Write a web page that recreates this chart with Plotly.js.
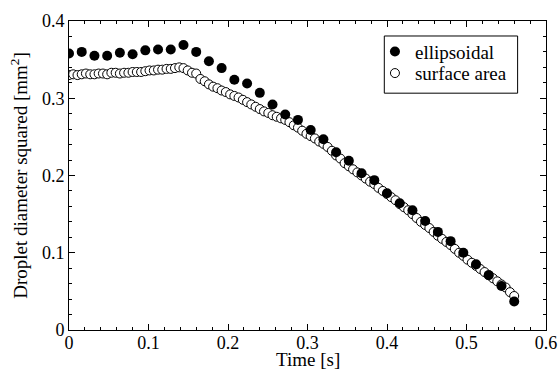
<!DOCTYPE html>
<html>
<head>
<meta charset="utf-8">
<script src="https://cdn.plot.ly/plotly-3.0.1.min.js"></script>
<style>html,body{margin:0;padding:0;background:#fff;}#chart{width:560px;height:371px;}</style>
</head>
<body>
<div id="chart"></div>
<script>
// Ellipsoidal (filled circles)
const ellTime = [0, 0.016, 0.032, 0.048, 0.064, 0.08, 0.096, 0.112, 0.128, 0.144, 0.16, 0.176, 0.192, 0.208, 0.224, 0.24, 0.256, 0.272, 0.288, 0.304, 0.32, 0.336, 0.352, 0.368, 0.384, 0.4, 0.416, 0.432, 0.448, 0.464, 0.48, 0.496, 0.512, 0.528, 0.544, 0.56];
const ellD2 = [0.358, 0.360, 0.355, 0.355, 0.359, 0.357, 0.362, 0.363, 0.363, 0.369, 0.360, 0.348, 0.339, 0.324, 0.319, 0.307, 0.292, 0.279, 0.272, 0.259, 0.247, 0.230, 0.219, 0.203, 0.194, 0.177, 0.164, 0.155, 0.141, 0.127, 0.115, 0.100, 0.085, 0.071, 0.057, 0.037];

// Surface area (open circles)
const surfTime = [0, 0.0053, 0.0107, 0.016, 0.0213, 0.0267, 0.032, 0.0373, 0.0427, 0.048, 0.0533, 0.0587, 0.064, 0.0693, 0.0747, 0.08, 0.0853, 0.0907, 0.096, 0.1013, 0.1067, 0.112, 0.1173, 0.1227, 0.128, 0.1333, 0.1387, 0.144, 0.1493, 0.1547, 0.16, 0.1653, 0.1707, 0.176, 0.1813, 0.1867, 0.192, 0.1973, 0.2027, 0.208, 0.2133, 0.2187, 0.224, 0.2293, 0.2347, 0.24, 0.2453, 0.2507, 0.256, 0.2613, 0.2667, 0.272, 0.2773, 0.2827, 0.288, 0.2933, 0.2987, 0.304, 0.3093, 0.3147, 0.32, 0.3253, 0.3307, 0.336, 0.3413, 0.3467, 0.352, 0.3573, 0.3627, 0.368, 0.3733, 0.3787, 0.384, 0.3893, 0.3947, 0.4, 0.4053, 0.4107, 0.416, 0.4213, 0.4267, 0.432, 0.4373, 0.4427, 0.448, 0.4533, 0.4587, 0.464, 0.4693, 0.4747, 0.48, 0.4853, 0.4907, 0.496, 0.5013, 0.5067, 0.512, 0.5173, 0.5227, 0.528, 0.5333, 0.5387, 0.544, 0.5493, 0.5547, 0.56];
const surfD2 = [0.330, 0.331, 0.330, 0.331, 0.332, 0.331, 0.331, 0.332, 0.332, 0.331, 0.333, 0.333, 0.332, 0.333, 0.333, 0.334, 0.334, 0.334, 0.335, 0.336, 0.336, 0.337, 0.337, 0.338, 0.338, 0.339, 0.340, 0.339, 0.336, 0.333, 0.332, 0.325, 0.322, 0.318, 0.315, 0.313, 0.310, 0.308, 0.305, 0.303, 0.301, 0.298, 0.295, 0.292, 0.289, 0.286, 0.283, 0.281, 0.278, 0.276, 0.274, 0.272, 0.269, 0.265, 0.262, 0.258, 0.254, 0.251, 0.248, 0.244, 0.241, 0.237, 0.232, 0.226, 0.222, 0.216, 0.212, 0.208, 0.204, 0.200, 0.196, 0.192, 0.189, 0.184, 0.180, 0.176, 0.172, 0.168, 0.163, 0.159, 0.155, 0.150, 0.145, 0.140, 0.136, 0.132, 0.127, 0.122, 0.118, 0.114, 0.110, 0.105, 0.100, 0.096, 0.091, 0.087, 0.083, 0.079, 0.075, 0.071, 0.067, 0.063, 0.059, 0.055, 0.049, 0.044];

const seriesNames = ["ellipsoidal", "surface area"];
const xTitle = "Time [s]";
const yTitle = "Droplet diameter squared [mm<sup>2</sup>]";

const titleFont = {family: "Liberation Serif", size: 19, color: "#000"};
const tickFont = {family: "Liberation Serif", size: 18, color: "#000"};
const legendFont = {family: "Liberation Serif", size: 19, color: "#000"};

const traces = [
  {
    x: surfTime, y: surfD2, name: seriesNames[1], type: "scatter", mode: "markers",
    legend: "legend2",
    marker: {symbol: "circle", size: 9, color: "#fff", line: {color: "#000", width: 1}}
  },
  {
    x: ellTime, y: ellD2, name: seriesNames[0], type: "scatter", mode: "markers",
    legend: "legend",
    marker: {symbol: "circle", size: 10, color: "#000", line: {width: 0}}
  }
];

const axisCommon = {
  showgrid: false, zeroline: false, showline: true, linecolor: "#000", linewidth: 1,
  mirror: "allticks", ticks: "inside", ticklen: 6, tickwidth: 1, tickcolor: "#000",
  tickfont: tickFont, automargin: false,
  minor: {ticks: "inside", ticklen: 3, tickwidth: 1, tickcolor: "#000", dtick: 0.02}
};

const legendCommon = {
  xanchor: "left", yanchor: "middle",
  bgcolor: "rgba(0,0,0,0)", borderwidth: 0,
  font: legendFont, itemwidth: 30
};

const layout = {
  width: 560, height: 371,
  margin: {l: 69, r: 14, t: 21, b: 41},
  paper_bgcolor: "#fff", plot_bgcolor: "#fff",
  font: titleFont,
  showlegend: true,
  legend: Object.assign({}, legendCommon, {x: 0.6414, y: 0.9008}),
  legend2: Object.assign({}, legendCommon, {x: 0.6414, y: 0.831}),
  shapes: [{
    type: "rect", xref: "paper", yref: "paper",
    x0: 0.661, x1: 0.9405, y0: 0.7664, y1: 0.9515,
    line: {color: "#000", width: 1}, fillcolor: "#fff", layer: "above"
  }],
  annotations: [{
    text: xTitle, xref: "paper", yref: "paper", x: 0.5, y: -0.097,
    xanchor: "center", yanchor: "middle", showarrow: false, font: titleFont, borderpad: 0
  }],
  xaxis: Object.assign({}, axisCommon, {
    range: [0, 0.6], dtick: 0.1, tick0: 0, ticklabelstandoff: -4
  }),
  yaxis: Object.assign({}, axisCommon, {
    range: [0, 0.4], dtick: 0.1, tick0: 0, ticklabelstandoff: 0,
    title: {text: yTitle, font: titleFont, standoff: 9}
  })
};

Plotly.newPlot("chart", traces, layout, {displayModeBar: false, staticPlot: true});
</script>
</body>
</html>
